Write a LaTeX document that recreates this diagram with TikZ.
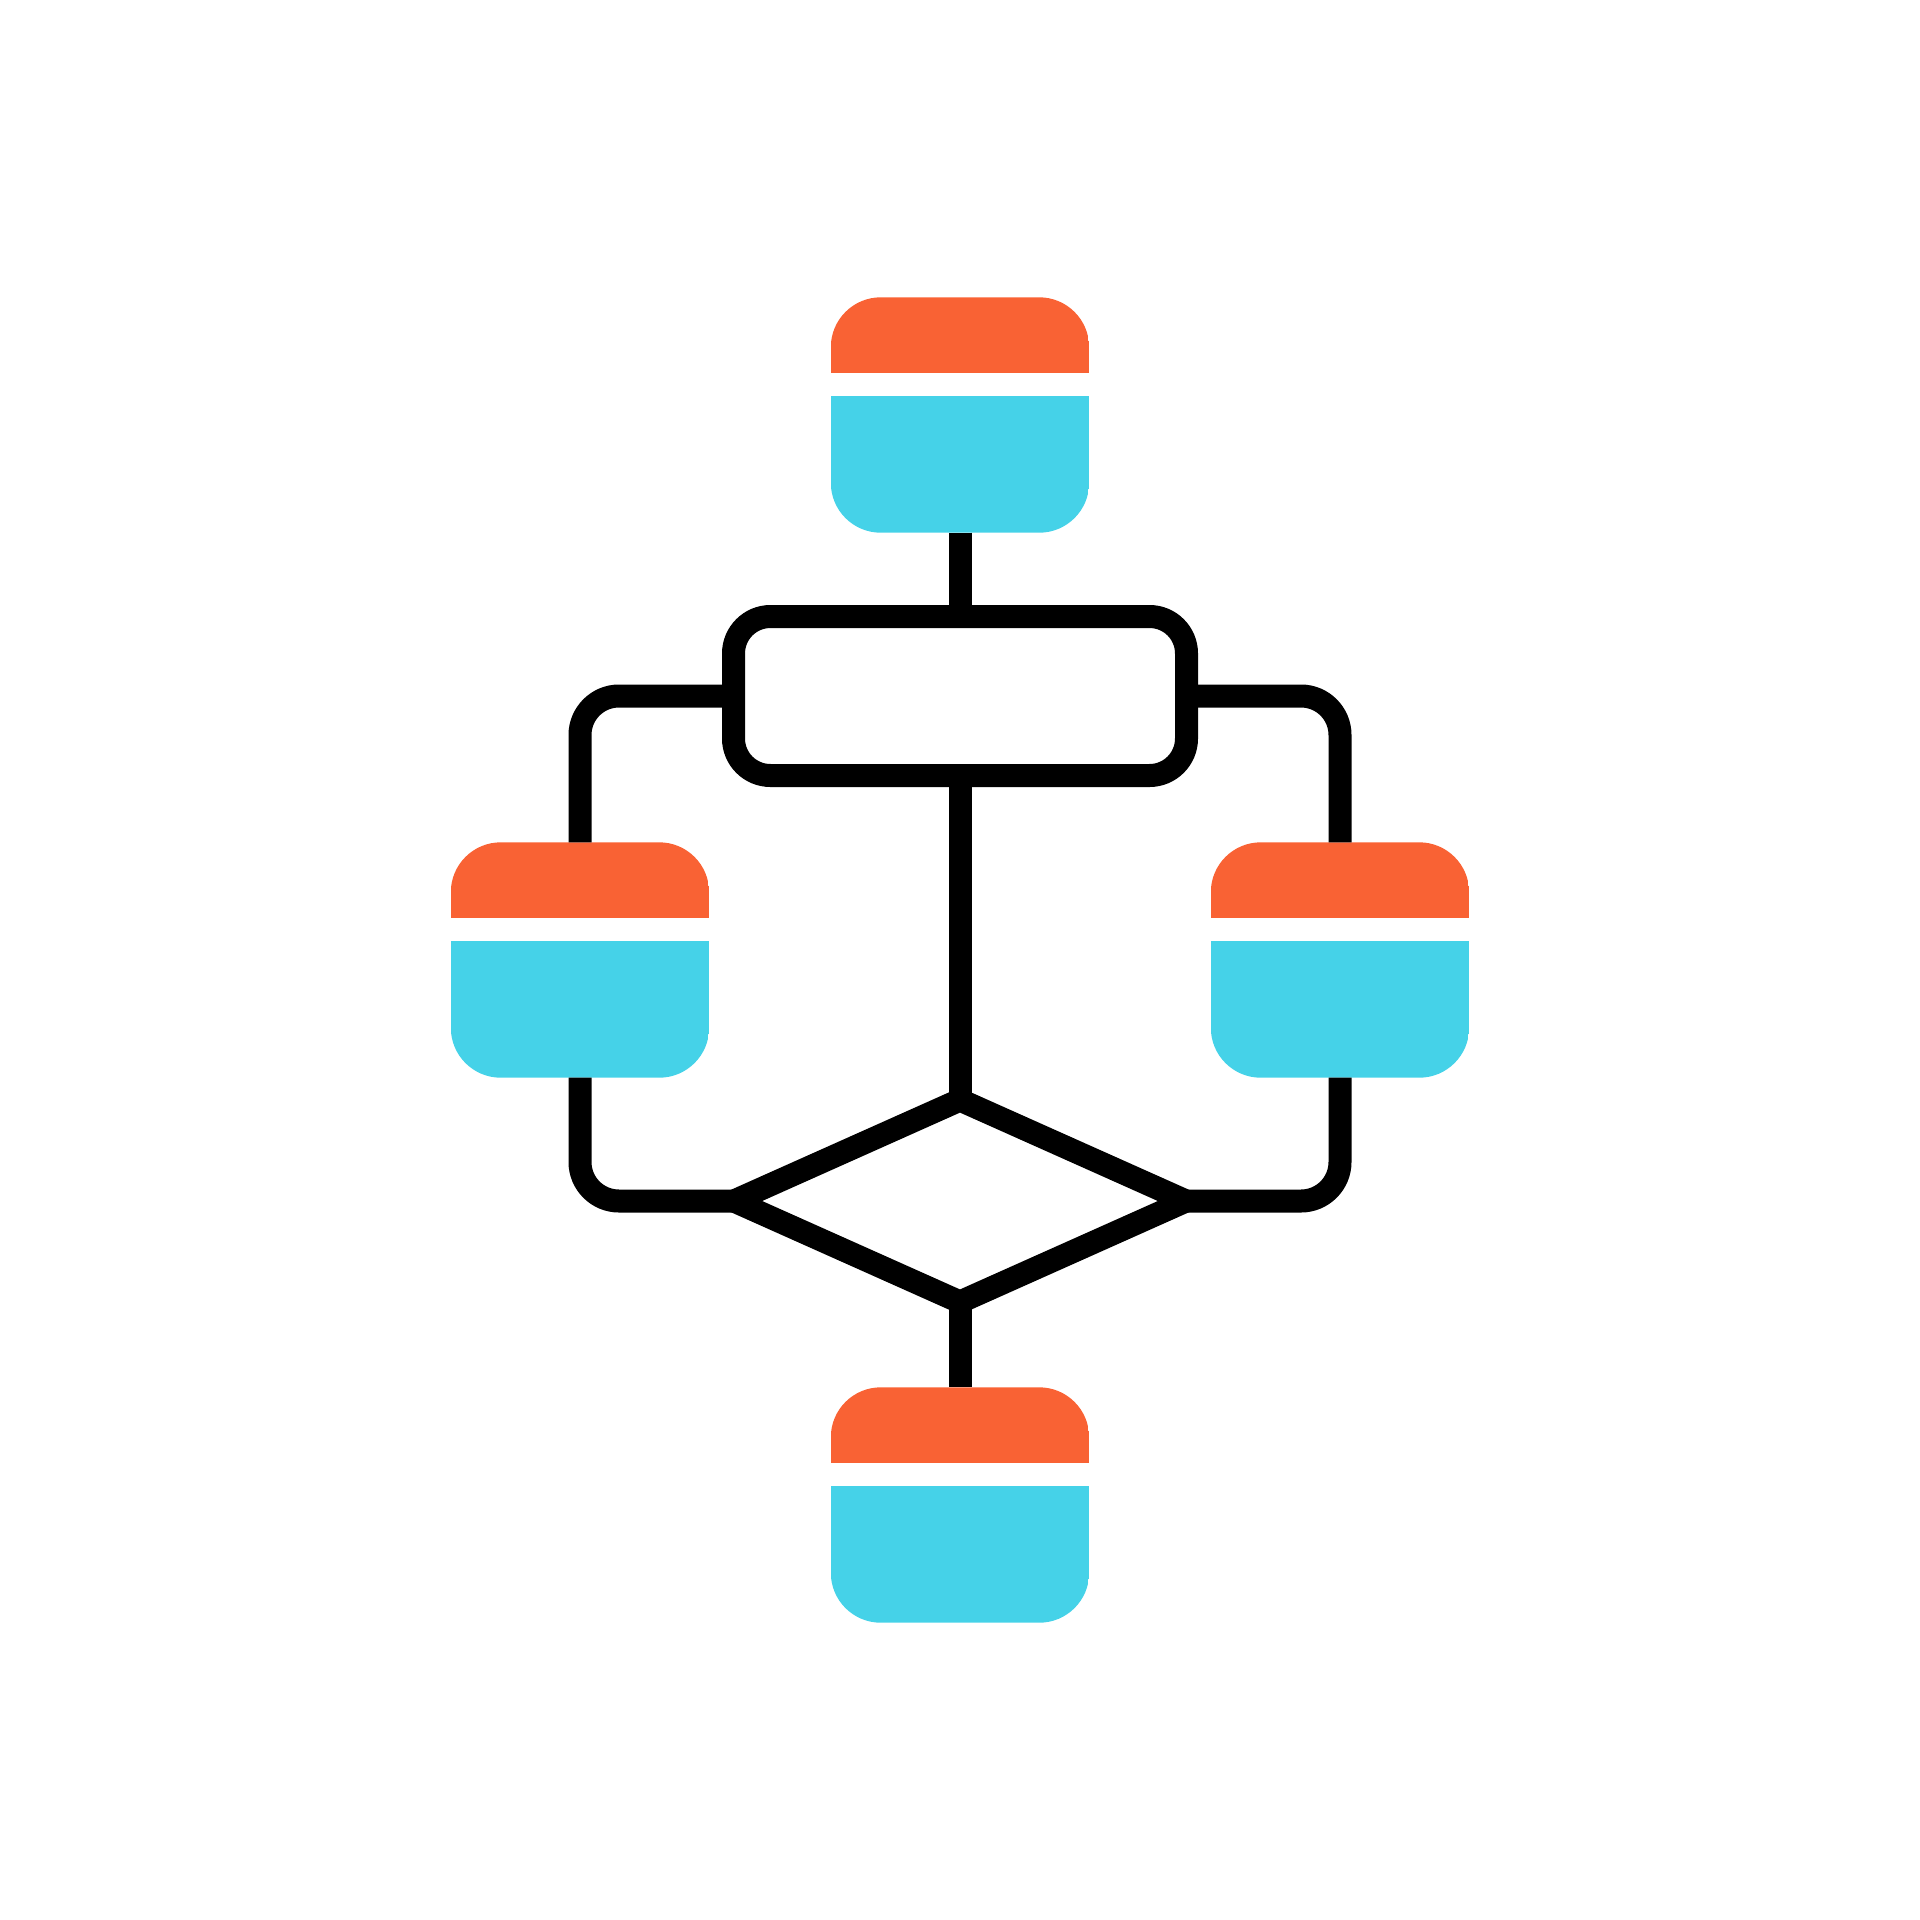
\documentclass[tikz,border=0pt]{standalone}
\usepackage{tikz}
\usetikzlibrary{calc}
\definecolor{cardorange}{HTML}{F96234}
\definecolor{cardcyan}{HTML}{45D2E8}
\tikzset{
  wire/.style={line width=23pt, color=black},
  cardbox/.style={minimum width=258pt, minimum height=235pt, inner sep=0pt},
  procbox/.style={draw, line width=23pt, rounded corners=37pt, minimum width=453pt, minimum height=159pt, inner sep=0pt}
}
% card: name, centre
\def\flowcard#1(#2){
  \node[cardbox] (#1) at (#2) {};
  \begin{scope}
    \clip[rounded corners=50pt] (#1.north west) rectangle (#1.south east);
    \fill[cardorange] (#1.north west) rectangle ($(#1.north east)+(0,76)$);
    \fill[cardcyan] ($(#1.north west)+(0,99)$) rectangle (#1.south east);
  \end{scope}
}

\begin{document}
\begin{tikzpicture}[x=1pt, y=-1pt]
			%%%%% START %%%%%
			\useasboundingbox (0, 0) rectangle (1920, 1920);
			
			\node[procbox] (proc) at (960, 696) {};
			
			\coordinate (dia-w) at (734, 1201);
			\coordinate (dia-n) at (960, 1100);
			\coordinate (dia-e) at (1186, 1201);
			\coordinate (dia-s) at (960, 1302);
			\draw[wire, line join=miter] (dia-w) -- (dia-n) -- (dia-e) -- (dia-s) -- cycle;
			
			\flowcard top(960, 415)
			\flowcard left(580, 960)
			\flowcard right(1340, 960)
			\flowcard bottom(960, 1505)
			
			\draw[wire] (top.south) -- (proc.north);
			\draw[wire] (proc.south) -- (dia-n);
			\draw[wire] (dia-s) -- (bottom.north);
			
			\draw[wire, rounded corners=39pt] (proc.west) -| (left.north);
			\draw[wire, rounded corners=39pt] (left.south) |- (dia-w);
			\draw[wire, rounded corners=39pt] (proc.east) -| (right.north);
			\draw[wire, rounded corners=39pt] (right.south) |- (dia-e);
			
			%%%%% END %%%%%
\end{tikzpicture}
\end{document}
